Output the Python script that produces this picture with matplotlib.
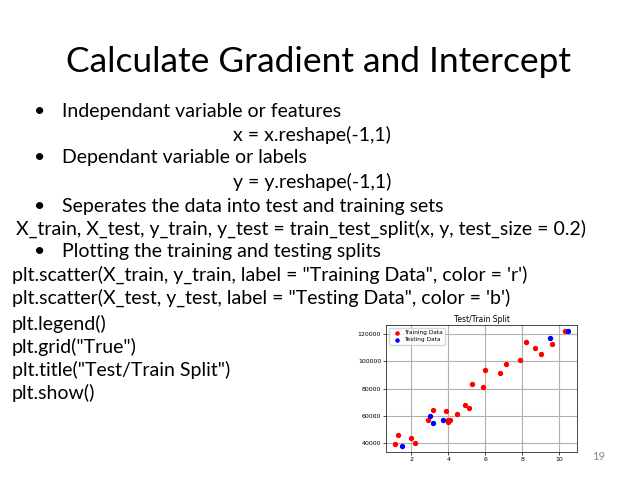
import matplotlib
matplotlib.use("Agg")
import matplotlib.pyplot as plt

x_train = [1.1,1.3,2.0,2.2,2.9,3.2,3.9,4.0,4.0,4.1,4.5,4.9,5.1,5.3,5.9,6.0,6.8,7.1,7.9,8.2,8.7,9.0,9.6,10.3]
y_train = [39343,46205,43525,39891,56642,64445,63218,55794,56957,57081,61111,67938,66029,83088,81363,93940,91738,98273,101302,113812,109431,105582,112635,122391]
x_test = [1.5,3.0,3.2,3.7,9.5,10.5]
y_test = [37731,60150,54445,57189,116969,121872]

W, H = 638, 478
fig = plt.figure(figsize=(W/100, H/100), dpi=100)
fam = ['Lato', 'DejaVu Sans']

def T(x, y, s, size=14, **kw):
    fig.text(x/W, 1 - y/H, s, fontsize=size, family=fam, va='center', ha='left', **kw)

fig.text(319/W, 1 - 62/H, "Calculate Gradient and Intercept", fontsize=25.5, family=fam, ha='center', va='center')

lines = [
    (112, True, 62, "Independant variable or features"),
    (135, False, 233, "x = x.reshape(-1,1)"),
    (158, True, 62, "Dependant variable or labels"),
    (182, False, 233, "y = y.reshape(-1,1)"),
    (206, True, 62, "Seperates the data into test and training sets"),
    (229, False, 16, "X_train, X_test, y_train, y_test = train_test_split(x, y, test_size = 0.2)"),
    (252, True, 62, "Plotting the training and testing splits"),
    (275, False, 12, 'plt.scatter(X_train, y_train, label = "Training Data", color = \'r\')'),
    (298, False, 12, 'plt.scatter(X_test, y_test, label = "Testing Data", color = \'b\')'),
    (324, False, 12, "plt.legend()"),
    (347, False, 12, 'plt.grid("True")'),
    (370, False, 12, 'plt.title("Test/Train Split")'),
    (393, False, 12, "plt.show()"),
]
for y, bullet, x, s in lines:
    if bullet:
        T(34, y, "•")
    T(x, y, s)

fig.text(592/W, 1 - 456/H, "19", fontsize=8, family=fam, color='#888888', ha='left', va='center')

ax = fig.add_axes([386/W, 1 - 452/H, 191/W, 127/H])
ax.scatter(x_train, y_train, color='r', s=8, label="Training Data")
ax.scatter(x_test, y_test, color='b', s=8, label="Testing Data")
ax.grid(True)
ax.set_axisbelow(True)
ax.set_title("Test/Train Split", fontsize=5.5, pad=2)
ax.tick_params(labelsize=4.5, length=2, pad=1.5, width=0.5)
ax.set_xticks([2,4,6,8,10])
ax.set_yticks([40000,60000,80000,100000,120000])
ax.legend(fontsize=4.2, loc='upper left', markerscale=0.8, handletextpad=0.2, borderpad=0.4, labelspacing=0.3)
for sp in ax.spines.values():
    sp.set_linewidth(0.5)

fig.savefig("out.png", dpi=100)
